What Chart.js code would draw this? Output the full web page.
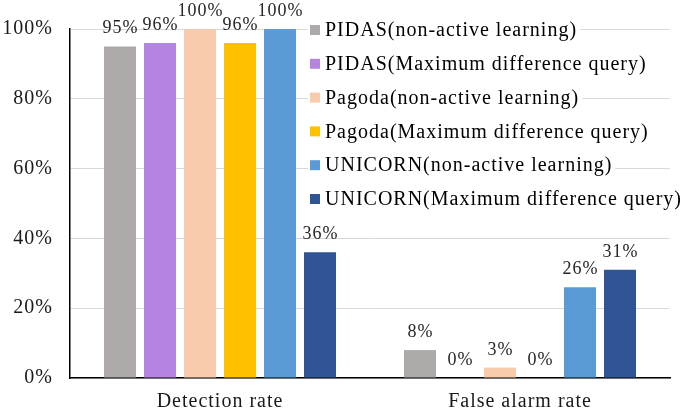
<!DOCTYPE html>
<html>
<head>
<meta charset="utf-8">
<script src="https://cdn.jsdelivr.net/npm/chart.js@4"></script>
<style>
  body { margin: 0; background: #fff; }
  #wrap { width: 685px; height: 413px; position: relative; }
</style>
</head>
<body>
<div id="wrap"><canvas id="barChart"></canvas></div>
<script>
const categories = ['Detection rate', 'False alarm rate'];
const seriesNames = [
  'PIDAS(non-active learning)',
  'PIDAS(Maximum difference query)',
  'Pagoda(non-active learning)',
  'Pagoda(Maximum difference query)',
  'UNICORN(non-active learning)',
  'UNICORN(Maximum difference query)'
];
const pidasNonActive = [95, 8];
const pidasMaxDiff = [96, 0];
const pagodaNonActive = [100, 3];
const pagodaMaxDiff = [96, 0];
const unicornNonActive = [100, 26];
const unicornMaxDiff = [36, 31];
const yTicks = [0, 20, 40, 60, 80, 100];

const seriesValues = [pidasNonActive, pidasMaxDiff, pagodaNonActive, pagodaMaxDiff, unicornNonActive, unicornMaxDiff];
const seriesColors = ['#aeaaaa', '#b385e1', '#f8cbad', '#ffc000', '#5b9bd5', '#2f5597'];

const serif = "'Liberation Serif', 'Times New Roman', serif";

// the original text is a bit wide, so spread letters slightly
const spacing = {
  id: 'spacing',
  beforeDraw(chart) { chart.ctx.letterSpacing = '1px'; }
};

// value labels above each bar
const valueLabels = {
  id: 'valueLabels',
  afterDatasetsDraw(chart) {
    const ctx = chart.ctx;
    ctx.save();
    ctx.letterSpacing = '1px';
    ctx.font = '18px ' + serif;
    ctx.fillStyle = '#262626';
    ctx.textAlign = 'center';
    ctx.textBaseline = 'alphabetic';
    chart.data.datasets.forEach((ds, i) => {
      chart.getDatasetMeta(i).data.forEach((bar, j) => {
        ctx.fillText(ds.data[j] + '%', bar.x + 0.5, bar.y - 13);
      });
    });
    ctx.restore();
  }
};

// legend drawn over the plot, like the original
const overlayLegend = {
  id: 'overlayLegend',
  afterDraw(chart) {
    const ctx = chart.ctx;
    ctx.save();
    ctx.letterSpacing = '1px';
    ctx.font = '20px ' + serif;
    ctx.textBaseline = 'middle';
    ctx.textAlign = 'left';
    chart.data.datasets.forEach((ds, i) => {
      const cy = 30 + i * 33.8;
      const w = ctx.measureText(ds.label).width;
      ctx.fillStyle = '#fff';
      ctx.fillRect(308, cy - 9, w + 20, 18);
      ctx.fillStyle = ds.backgroundColor;
      ctx.fillRect(310, cy - 5, 10, 10);
      ctx.fillStyle = '#000';
      ctx.fillText(ds.label, 325, cy + 1);
    });
    ctx.restore();
  }
};

const ctx1 = document.getElementById('barChart').getContext('2d');
const chartData1 = {
  labels: categories,
  datasets: seriesValues.map((vals, i) => ({
    label: seriesNames[i],
    data: vals,
    backgroundColor: seriesColors[i],
    categoryPercentage: 0.8,
    barPercentage: 0.8
  }))
};

const config1 = {
  type: 'bar',
  data: chartData1,
  options: {
    responsive: true,
    maintainAspectRatio: false,
    animation: false,
    layout: { padding: { top: 28, right: 15, left: 0, bottom: 0 } },
    scales: {
      x: {
        grid: { display: false, drawTicks: false },
        border: { color: '#000', width: 1.5 },
        ticks: { color: '#1a1a1a', font: { family: serif, size: 20 }, padding: 12 },
        afterFit(scale) { scale.height = 35; }
      },
      y: {
        min: 0,
        max: 100,
        afterBuildTicks(scale) { scale.ticks = yTicks.map(v => ({ value: v })); },
        grid: { color: '#d9d9d9', drawTicks: false },
        border: { color: '#000', width: 1.5 },
        ticks: {
          color: '#1a1a1a',
          font: { family: serif, size: 20 },
          padding: 17,
          callback: v => v + '%'
        },
        afterFit(scale) { scale.width = 70; }
      }
    },
    plugins: {
      legend: { display: false },
      tooltip: { enabled: false }
    }
  },
  plugins: [spacing, valueLabels, overlayLegend]
};

const myChart1 = new Chart(ctx1, config1);
</script>
</body>
</html>
